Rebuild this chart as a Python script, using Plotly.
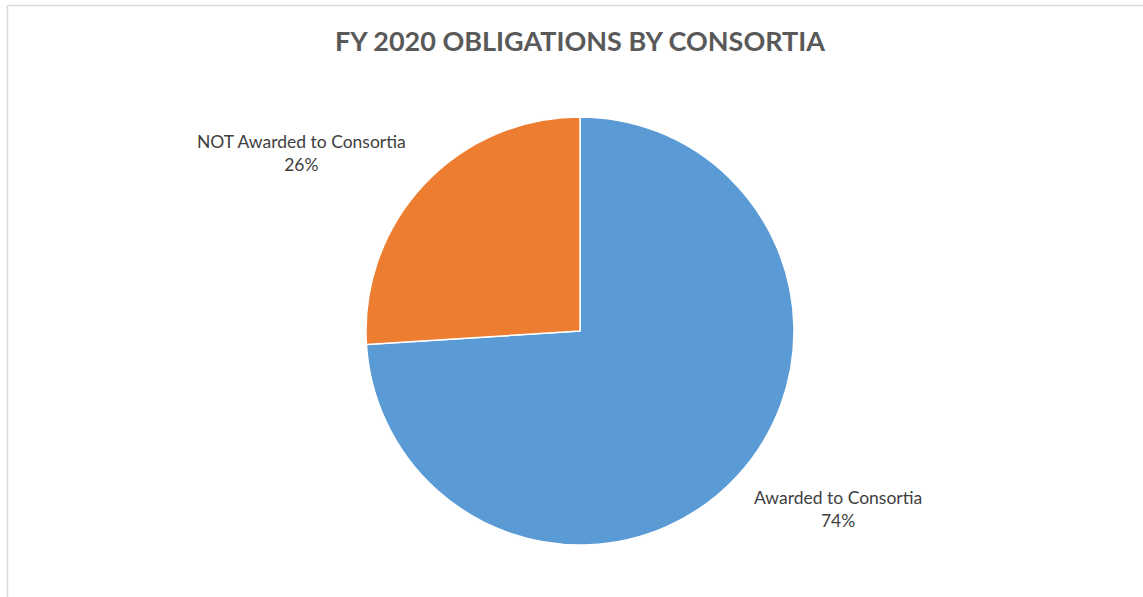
import plotly.graph_objects as go

labels = ["Awarded to Consortia", "NOT Awarded to Consortia"]
values = [74, 26]
colors = ["#5B9BD5", "#ED7D31"]
title_text = "FY 2020 OBLIGATIONS BY CONSORTIA"

W, H = 1143, 597
cx, cy, r = 580, 331, 214

fig = go.Figure()
fig.add_trace(go.Pie(
    labels=labels, values=values, sort=False, direction="clockwise", rotation=0,
    marker=dict(colors=colors, line=dict(color="white", width=1.5)),
    textinfo="none", hoverinfo="label+percent", showlegend=False,
    domain=dict(x=[(cx - r) / W, (cx + r) / W], y=[(H - cy - r) / H, (H - cy + r) / H]),
))

# label positions (paper px)
label_pos = [(838, 509), (301, 153)]
total = sum(values)
for lab, v, (lx, ly) in zip(labels, values, label_pos):
    fig.add_annotation(
        x=lx / W, y=1 - ly / H, xref="paper", yref="paper",
        xanchor="center", yanchor="middle",
        text=f"{lab}<br>{round(100 * v / total)}%", showarrow=False,
        font=dict(family="Lato", size=17.5, color="#404040"), align="center",
    )

# chart area border (partially visible)
border = "#D9D9D9"
fig.add_shape(type="line", xref="paper", yref="paper", x0=7.5 / W, x1=1, y0=1 - 5.5 / H, y1=1 - 5.5 / H,
              line=dict(color=border, width=1.5))
fig.add_shape(type="line", xref="paper", yref="paper", x0=7.5 / W, x1=7.5 / W, y0=0, y1=1 - 5.5 / H,
              line=dict(color=border, width=1.5))

fig.update_layout(
    width=W, height=H, margin=dict(l=0, r=0, t=0, b=0),
    paper_bgcolor="white", plot_bgcolor="white",
    title=dict(text=f"<b>{title_text}</b>", x=580 / W, xanchor="center", y=1 - 42 / H, yanchor="middle",
               font=dict(family="Lato", size=27, color="#595959")),
)

fig.write_html("out.html")
